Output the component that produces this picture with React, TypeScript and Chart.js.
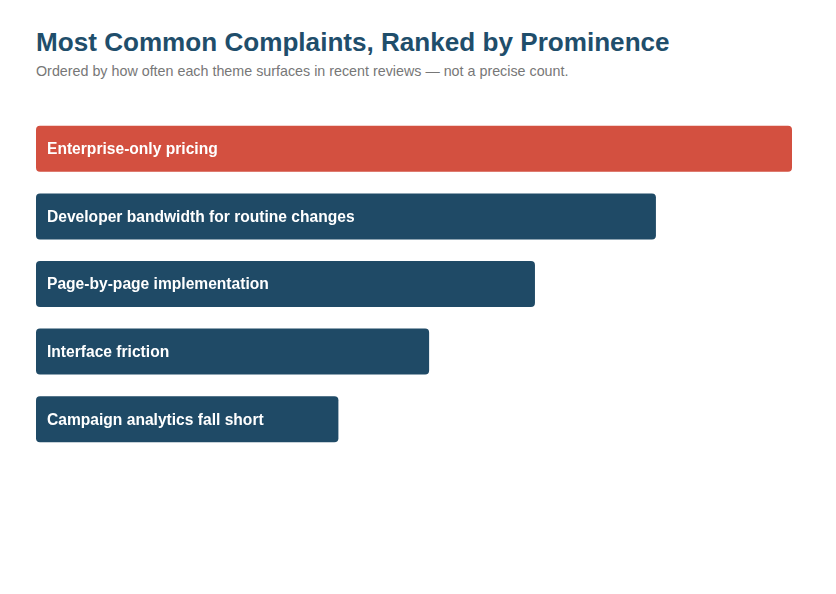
import { useEffect, useRef } from 'react'
import { Chart, registerables } from 'chart.js'

Chart.register(...registerables)

const themes = [
  'Enterprise-only pricing',
  'Developer bandwidth for routine changes',
  'Page-by-page implementation',
  'Interface friction',
  'Campaign analytics fall short',
]
const prominence = [100, 82, 66, 52, 40]
const barColors = ['#d35040', '#1f4a66', '#1f4a66', '#1f4a66', '#1f4a66']

const FONT = '"Liberation Sans", Arial, Helvetica, sans-serif'

const insideLabels = {
  id: 'insideLabels',
  afterDatasetsDraw(chart: Chart) {
    const { ctx } = chart
    const meta = chart.getDatasetMeta(0)
    ctx.save()
    ctx.font = `bold 15.6px ${FONT}`
    ctx.fillStyle = '#ffffff'
    ctx.textBaseline = 'middle'
    ctx.textAlign = 'left'
    meta.data.forEach((bar: any, i: number) => {
      ctx.fillText(themes[i], bar.base + 11, bar.y + 1)
    })
    ctx.restore()
  },
}

export default function App() {
  const chartRef = useRef<HTMLCanvasElement>(null)

  useEffect(() => {
    if (!chartRef.current) return

    const chart = new Chart(chartRef.current, {
      type: 'bar',
      data: {
        labels: themes,
        datasets: [{
          data: prominence,
          backgroundColor: barColors,
          borderRadius: 4,
          borderSkipped: false,
          categoryPercentage: 0.68,
          barPercentage: 1,
        }]
      },
      options: {
        indexAxis: 'y',
        responsive: false,
        animation: false,
        layout: { padding: 0 },
        scales: {
          x: { display: false, min: 0, max: 100 },
          y: { display: false },
        },
        plugins: {
          legend: { display: false },
          tooltip: { enabled: false },
        }
      },
      plugins: [insideLabels]
    })

    return () => chart.destroy()
  }, [])

  return (
    <div style={{ padding: '19px 36px 0 28px', fontFamily: FONT }}>
      <h1 style={{ margin: 0, fontSize: 26.1, lineHeight: '30px', fontWeight: 700, color: '#1f4e6b' }}>
        Most Common Complaints, Ranked by Prominence
      </h1>
      <div style={{ marginTop: 4, fontSize: 14.3, lineHeight: '20px', color: '#777777' }}>
        Ordered by how often each theme surfaces in recent reviews — not a precise count.
      </div>
      <canvas ref={chartRef} width={756} height={338} style={{ display: 'block', marginTop: 34 }} />
    </div>
  )
}
